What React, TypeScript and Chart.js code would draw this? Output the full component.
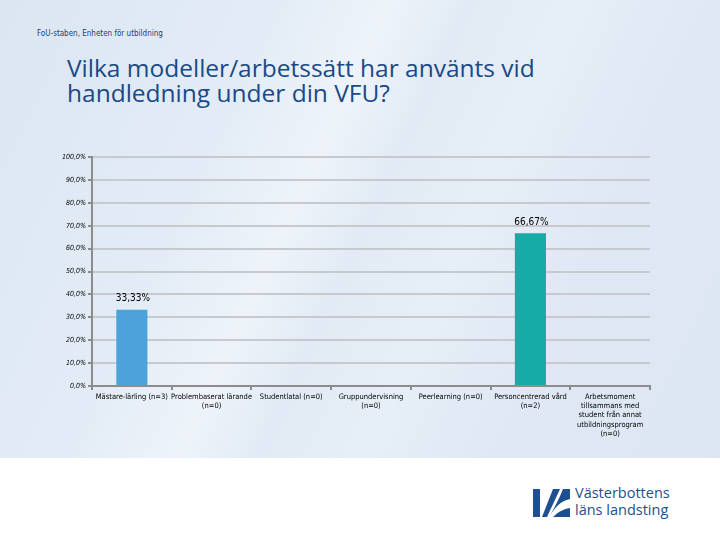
import React, { useEffect, useRef } from "react";
import { Chart, registerables } from "chart.js";

Chart.register(...registerables);

const categories: (string | string[])[] = [
  "Mästare-lärling (n=3)",
  ["Problembaserat lärande", "(n=0)"],
  "Studentlatal (n=0)",
  ["Gruppundervisning", "(n=0)"],
  "Peerlearning (n=0)",
  ["Personcentrerad vård", "(n=2)"],
  ["Arbetsmoment", "tillsammans med", "student från annat", "utbildningsprogram", "(n=0)"],
];
const values = [33.33, 0, 0, 0, 0, 66.67, 0];
const barColors = ["#4BA3D9", "#4BA3D9", "#4BA3D9", "#4BA3D9", "#4BA3D9", "#17ABA6", "#4BA3D9"];
const yTicks = [0, 10, 20, 30, 40, 50, 60, 70, 80, 90, 100];

const fmt = (v: number, d: number) => v.toFixed(d).replace(".", ",") + "%";

const valueLabels = {
  id: "valueLabels",
  afterDatasetsDraw(chart: any) {
    const ctx = chart.ctx;
    const meta = chart.getDatasetMeta(0);
    ctx.save();
    ctx.font = "10px 'DejaVu Sans Condensed', 'DejaVu Sans', sans-serif";
    ctx.fillStyle = "#000";
    ctx.textAlign = "center";
    ctx.textBaseline = "middle";
    meta.data.forEach((bar: any, i: number) => {
      const v = values[i];
      if (!v) return;
      ctx.fillText(fmt(v, 2), bar.x + 1, bar.y - 11);
    });
    ctx.restore();
  },
};

function ChartCanvas() {
  const ref = useRef<HTMLCanvasElement>(null);
  useEffect(() => {
    if (!ref.current) return;
    const chart = new Chart(ref.current, {
      type: "bar",
      data: {
        labels: categories,
        datasets: [
          {
            data: values,
            backgroundColor: barColors,
            barPercentage: 0.78,
            categoryPercentage: 0.5,
          },
        ],
      },
      options: {
        responsive: false,
        animation: false,
        layout: { padding: { left: 0, right: 70, top: 12, bottom: 0 } },
        plugins: { legend: { display: false }, tooltip: { enabled: false } },
        scales: {
          x: {
            grid: {
              drawOnChartArea: false,
              drawTicks: true,
              tickLength: 4,
              offset: true,
              color: "#8c8c8c",
              lineWidth: 2,
            },
            border: { color: "#8c8c8c", width: 2 },
            ticks: {
              color: "#000",
              font: { size: 7.5, family: "'DejaVu Sans Condensed', 'DejaVu Sans', sans-serif", lineHeight: 1.25 },
              maxRotation: 0,
              autoSkip: false,
              padding: 2,
            },
            afterFit: (s: any) => {
              s.height = 64;
            },
          },
          y: {
            min: 0,
            max: 100,
            afterBuildTicks: (s: any) => {
              s.ticks = yTicks.map((v) => ({ value: v }));
            },
            grid: {
              color: "#c6cacf",
              lineWidth: 2,
              tickLength: 4,
              tickColor: "#8c8c8c",
            },
            border: { color: "#8c8c8c", width: 2 },
            ticks: {
              color: "#000",
              font: { size: 7, style: "italic", family: "'DejaVu Sans Condensed', 'DejaVu Sans', sans-serif" },
              padding: 2,
              callback: (v: any) => fmt(Number(v), 1),
            },
            afterFit: (s: any) => {
              s.width = 92;
            },
          },
        },
      },
      plugins: [valueLabels],
    });
    return () => chart.destroy();
  }, []);
  return (
    <canvas
      ref={ref}
      width={720}
      height={305}
      style={{ position: "absolute", left: 0, top: 145, width: 720, height: 305 }}
    />
  );
}

export default function App() {
  return (
    <div
      style={{
        position: "fixed",
        left: 0,
        top: 0,
        width: 720,
        height: 540,
        background: "#fff",
        overflow: "hidden",
        fontFamily: "'Open Sans', sans-serif",
      }}
    >
      <div
        style={{
          position: "absolute",
          left: 0,
          top: 0,
          width: 720,
          height: 458,
          background:
            "linear-gradient(115deg, #dbe6f3 0%, #e3ecf6 30%, #eef3fa 42%, #e2ebf5 50%, #e6eef7 62%, #dfe8f4 75%, #dde7f3 100%)",
        }}
      />
      <div
        style={{
          position: "absolute",
          left: 37,
          top: 29,
          fontSize: 8,
          color: "#1b3f6e",
          fontFamily: "'DejaVu Sans Condensed', 'DejaVu Sans', sans-serif",
        }}
      >
        FoU-staben, Enheten för utbildning
      </div>
      <div
        style={{
          position: "absolute",
          left: 67,
          top: 55,
          fontSize: 24.5,
          lineHeight: "25px",
          color: "#1a4a86",
          fontFamily: "'Open Sans', sans-serif",
        }}
      >
        Vilka modeller/arbetssätt har använts vid
        <br />
        handledning under din VFU?
      </div>
      <ChartCanvas />
      <svg
        style={{ position: "absolute", left: 533, top: 487 }}
        width={38}
        height={32}
        viewBox="0 0 38 32"
      >
        <rect x={0} y={2} width={7} height={28} fill="#1d4f91" />
        <path d="M9 30 L20 2 L27 2 L14 30 Z" fill="#1d4f91" />
        <path d="M16 30 C22 20 28 14 37 12 L37 2 L30 2 C26 12 22 20 16 30 Z" fill="#1d4f91" />
        <path d="M20 30 C26 24 31 22 37 21 L37 30 Z" fill="#1d4f91" />
      </svg>
      <div
        style={{
          position: "absolute",
          left: 575,
          top: 484,
          fontSize: 14.5,
          lineHeight: "17px",
          color: "#1d4f91",
          fontFamily: "'Open Sans', sans-serif",
        }}
      >
        Västerbottens
        <br />
        läns landsting
      </div>
    </div>
  );
}
